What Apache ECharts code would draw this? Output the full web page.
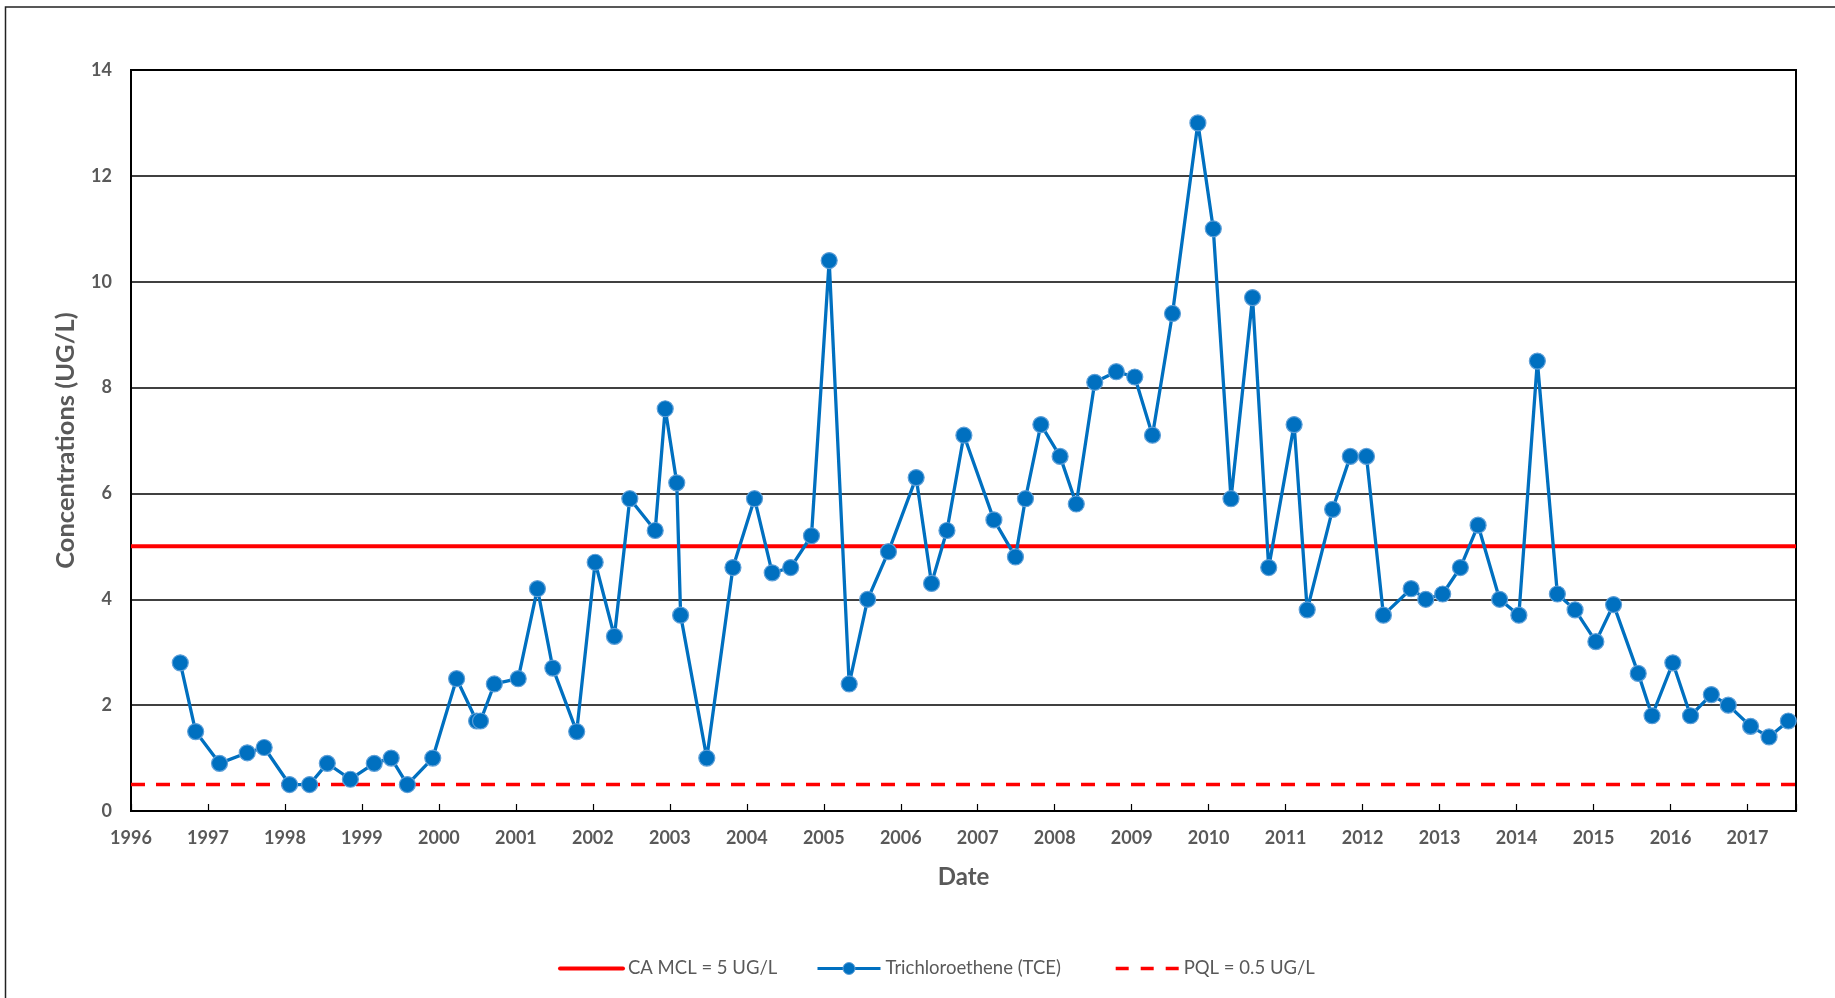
<!DOCTYPE html>
<html>
<head>
<meta charset="utf-8">
<script src="https://cdn.jsdelivr.net/npm/echarts@6/dist/echarts.min.js"></script>
<style>
html,body{margin:0;padding:0;background:#fff;}
#c{width:1835px;height:998px;}
</style>
</head>
<body>
<div id="c"></div>
<script>
// Sample dates as decimal years
const sampleDates = [
  1996.64, 1996.84, 1997.15, 1997.51, 1997.73, 1998.06, 1998.32, 1998.55, 1998.85, 1999.16,
  1999.38, 1999.59, 1999.92, 2000.23, 2000.49, 2000.54, 2000.72, 2001.03, 2001.28, 2001.48,
  2001.79, 2002.03, 2002.28, 2002.48, 2002.81, 2002.94, 2003.09, 2003.14, 2003.48, 2003.82,
  2004.10, 2004.33, 2004.57, 2004.84, 2005.07, 2005.33, 2005.57, 2005.84, 2006.20, 2006.40,
  2006.60, 2006.82, 2007.21, 2007.49, 2007.62, 2007.82, 2008.07, 2008.28, 2008.52, 2008.80,
  2009.04, 2009.27, 2009.53, 2009.86, 2010.06, 2010.29, 2010.57, 2010.78, 2011.11, 2011.28,
  2011.61, 2011.84, 2012.05, 2012.27, 2012.63, 2012.82, 2013.04, 2013.27, 2013.50, 2013.78,
  2014.03, 2014.27, 2014.53, 2014.76, 2015.03, 2015.26, 2015.58, 2015.76, 2016.03, 2016.26,
  2016.53, 2016.75, 2017.04, 2017.28, 2017.53
];
// Trichloroethene (TCE) concentrations, UG/L
const tceValues = [
  2.8, 1.5, 0.9, 1.1, 1.2, 0.5, 0.5, 0.9, 0.6, 0.9,
  1.0, 0.5, 1.0, 2.5, 1.7, 1.7, 2.4, 2.5, 4.2, 2.7,
  1.5, 4.7, 3.3, 5.9, 5.3, 7.6, 6.2, 3.7, 1.0, 4.6,
  5.9, 4.5, 4.6, 5.2, 10.4, 2.4, 4.0, 4.9, 6.3, 4.3,
  5.3, 7.1, 5.5, 4.8, 5.9, 7.3, 6.7, 5.8, 8.1, 8.3,
  8.2, 7.1, 9.4, 13.0, 11.0, 5.9, 9.7, 4.6, 7.3, 3.8,
  5.7, 6.7, 6.7, 3.7, 4.2, 4.0, 4.1, 4.6, 5.4, 4.0,
  3.7, 8.5, 4.1, 3.8, 3.2, 3.9, 2.6, 1.8, 2.8, 1.8,
  2.2, 2.0, 1.6, 1.4, 1.7
];
// Reference limits
const mclValue = 5;
const pqlValue = 0.5;
// Axis ranges
const xRange = [1996, 2017.63];
const yRange = [0, 14];
const yStep = 2;
const seriesNames = ['CA MCL = 5 UG/L', 'Trichloroethene (TCE)', 'PQL = 0.5 UG/L'];

const FONT = 'Lato';
const GREY = '#595959';

const tceData = sampleDates.map((d, i) => [d, tceValues[i]]);
const mclData = xRange.map(x => [x, mclValue]);
const pqlData = xRange.map(x => [x, pqlValue]);

const chart = echarts.init(document.getElementById('c'), null, {renderer: 'canvas'});

function legendAt(left, name, lineStyle, hideSymbol) {
  const lg = {
    data: [name],
    left: left,
    top: 954,
    itemWidth: 63,
    itemHeight: 15,
    itemGap: 0,
    selectedMode: false,
    textStyle: {fontFamily: FONT, fontSize: 18.5, color: GREY},
    lineStyle: lineStyle
  };
  if (hideSymbol) {
    lg.itemStyle = {color: 'rgba(0,0,0,0)', borderColor: 'rgba(0,0,0,0)', borderWidth: 0};
  } else {
    lg.itemStyle = {color: '#0070C0', borderColor: '#5d9fd8', borderWidth: 1};
  }
  return lg;
}

chart.setOption({
  animation: false,
  backgroundColor: '#ffffff',
  graphic: [{
    type: 'rect',
    shape: {x: 5.5, y: 7, width: 1900, height: 1100},
    style: {fill: 'none', stroke: '#222', lineWidth: 1.5},
    silent: true,
    z: -10
  }],
  legend: [
    legendAt(553, seriesNames[0], {color: '#FF0000', width: 4, cap: 'round', type: 'solid'}, true),
    legendAt(811, seriesNames[1], {color: '#0070C0', width: 3, type: 'solid'}, false),
    legendAt(1109, seriesNames[2], {color: '#FF0000', width: 3.4, type: [13, 12]}, true)
  ],
  grid: {
    left: 131, right: 39, top: 70, bottom: 187,
    show: true, borderColor: '#000', borderWidth: 2, containLabel: false
  },
  xAxis: {
    type: 'value',
    min: xRange[0], max: xRange[1], interval: 1,
    name: 'Date', nameLocation: 'middle', nameGap: 54,
    nameTextStyle: {fontFamily: FONT, fontSize: 24, fontWeight: 'bold', color: GREY},
    axisLine: {show: true, lineStyle: {color: '#000', width: 2}},
    axisTick: {show: true, inside: true, length: 7, lineStyle: {color: '#000', width: 1.2}},
    axisLabel: {
      fontFamily: FONT, fontSize: 18, fontWeight: 'bold', color: GREY, margin: 18,
      formatter: v => (Math.abs(v - Math.round(v)) < 1e-6 ? String(Math.round(v)) : '')
    },
    splitLine: {show: false}
  },
  yAxis: {
    type: 'value',
    min: yRange[0], max: yRange[1], interval: yStep,
    name: 'Concentrations (UG/L)', nameLocation: 'middle', nameGap: 52,
    nameTextStyle: {fontFamily: FONT, fontSize: 25.5, fontWeight: 'bold', color: GREY},
    axisLine: {show: true, lineStyle: {color: '#000', width: 2}},
    axisTick: {show: false},
    axisLabel: {fontFamily: FONT, fontSize: 18, fontWeight: 'bold', color: GREY, margin: 19},
    splitLine: {show: true, lineStyle: {color: '#000', width: 1.6}}
  },
  series: [
    {
      name: seriesNames[0], type: 'line', data: mclData,
      symbol: 'none',
      lineStyle: {color: '#FF0000', width: 4},
      itemStyle: {color: '#FF0000'},
      silent: true
    },
    {
      name: seriesNames[1], type: 'line', data: tceData,
      symbol: 'circle', symbolSize: 16, showAllSymbol: true,
      lineStyle: {color: '#0070C0', width: 3.3},
      itemStyle: {color: '#0070C0', borderColor: '#5d9fd8', borderWidth: 1.2},
      silent: true
    },
    {
      name: seriesNames[2], type: 'line', data: pqlData,
      symbol: 'none',
      lineStyle: {color: '#FF0000', width: 3.5, type: [14, 11]},
      itemStyle: {color: '#FF0000'},
      silent: true
    }
  ]
});
</script>
</body>
</html>
